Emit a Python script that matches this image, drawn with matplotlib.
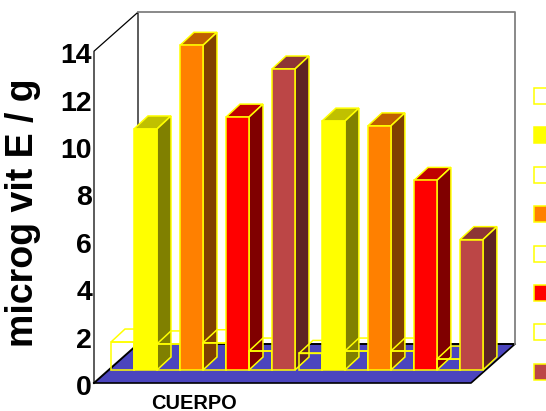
"""Clustered pseudo-3D bar chart of vitamin E, white and coloured bars in pairs."""

import matplotlib

matplotlib.use("Agg")
import matplotlib.pyplot as plt
from matplotlib.patches import Polygon, Rectangle

plt.rcParams["font.family"] = ["Liberation Sans", "DejaVu Sans"]

# values, left to right
white_values = [1.18, 1.1, 1.15, 0.8, 0.7, 0.8, 0.8, 0.46]
color_values = [10.17, 13.7, 10.67, 12.7, 10.5, 10.3, 8.0, 5.5]
y_ticks = [0, 2, 4, 6, 8, 10, 12, 14]
category = "CUERPO"
y_label = "microg vit E / g"

# (front, top, side) shades per series
shades = [
    ("#ffff00", "#c0c000", "#808000"),
    ("#ff8000", "#c06000", "#804000"),
    ("#ff0000", "#c00000", "#800000"),
    ("#bc4646", "#8d3535", "#5e2323"),
]

W, H = 546, 411
SLOT_PX = 23.0  # one bar width
UNIT_PX = 23.7  # one y unit
ORIGIN_X, ORIGIN_Y = 111, 370  # where slot 0 / value 0 of the bars sit
EDGE = "#ffff00"
FLOOR = "#4b45be"
LW = 1.1

fig = plt.figure(figsize=(W / 100, H / 100), dpi=100)
ax = fig.add_axes([0, 0, 1, 1])
ax.set_xlim(-ORIGIN_X / SLOT_PX, (W - ORIGIN_X) / SLOT_PX)
ax.set_ylim((ORIGIN_Y - H) / UNIT_PX, ORIGIN_Y / UNIT_PX)
ax.axis("off")

# depth of a bar, and the box the chart stands in, in data units
bar_dx, bar_dy = 14 / SLOT_PX, 13 / UNIT_PX
left, right = (94 - ORIGIN_X) / SLOT_PX, (471 - ORIGIN_X) / SLOT_PX
front = (ORIGIN_Y - 383) / UNIT_PX
wall_dx, wall_dy = 44 / SLOT_PX, 39 / UNIT_PX
top = front + 14


def draw_bar(x, value, faces, z):
    x1 = x + 1
    ax.add_patch(Polygon([(x, value), (x + bar_dx, value + bar_dy), (x1 + bar_dx, value + bar_dy), (x1, value)],
                         facecolor=faces[1], edgecolor=EDGE, lw=LW, fill=faces[1] != "none", zorder=z))
    ax.add_patch(Polygon([(x1, 0), (x1 + bar_dx, bar_dy), (x1 + bar_dx, value + bar_dy), (x1, value)],
                         facecolor=faces[2], edgecolor=EDGE, lw=LW, fill=faces[2] != "none", zorder=z))
    ax.add_patch(Rectangle((x, 0), 1, value,
                           facecolor=faces[0], edgecolor=EDGE, lw=LW, fill=faces[0] != "none", zorder=z))


# floor and walls
ax.add_patch(Polygon([(left, front), (right, front), (right + wall_dx, front + wall_dy), (left + wall_dx, front + wall_dy)],
                     facecolor=FLOOR, edgecolor="none", zorder=1))
ax.plot([left, right, right + wall_dx], [front, front, front + wall_dy], color="black", lw=1.2, zorder=2)
ax.plot([left, left + wall_dx, right + wall_dx], [front, front + wall_dy, front + wall_dy], color="black", lw=1.4, zorder=2)
ax.plot([left, left, left + wall_dx, left + wall_dx], [front, top, top + wall_dy, front + wall_dy], color="black", lw=0.9, zorder=2)
ax.plot([left + wall_dx, right + wall_dx, right + wall_dx], [top + wall_dy, top + wall_dy, front + wall_dy],
        color="#808080", lw=1.3, zorder=2)

# the bars are drawn left to right so each one hides what is behind it
z = 3
for group in range(2):
    for i in range(4):
        x = 2 * (group * 4 + i) + group * 0.17
        draw_bar(x, white_values[group * 4 + i], ("none", "none", "none"), z)
        draw_bar(x + 1, color_values[group * 4 + i], shades[i], z + 1)
        z += 2

for tick in y_ticks:
    ax.text(left - 2 / SLOT_PX, front + tick - 12 / UNIT_PX, str(tick), ha="right", va="baseline", fontsize=20.5,
            fontweight="bold", color="black")
ax.text(left + 100.5 / SLOT_PX, front - 26 / UNIT_PX, category, ha="center", va="baseline", fontsize=14.4,
        fontweight="bold", color="black")
ax.text(left - 71 / SLOT_PX, front + 170 / UNIT_PX, y_label, rotation=90, ha="center", va="center", fontsize=27,
        fontweight="bold", color="black")

# legend keys, their labels fall outside the picture
key_faces = ["white", shades[0][0], "white", shades[1][0], "white", shades[2][0], "white", shades[3][0]]
for i, face in enumerate(key_faces):
    key_y = front + (383 - 104 - i * 39.4) / UNIT_PX
    ax.add_patch(Rectangle((left + 439.5 / SLOT_PX, key_y), 20 / SLOT_PX, 16 / UNIT_PX,
                           facecolor=face, edgecolor=EDGE, lw=LW, zorder=50))

fig.savefig("out.png", dpi=100)
plt.close(fig)
